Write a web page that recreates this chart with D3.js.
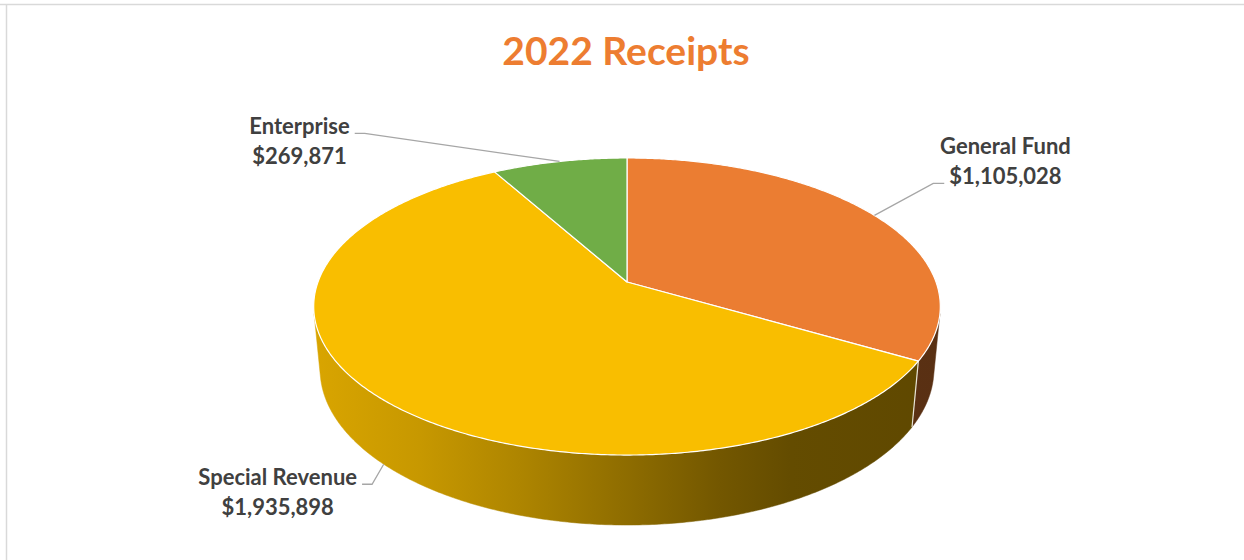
<!DOCTYPE html>
<html>
<head>
<meta charset="utf-8">
<script src="https://cdn.jsdelivr.net/npm/d3@7/dist/d3.min.js"></script>
<style>
  html, body { margin: 0; padding: 0; background: #ffffff; }
  svg { display: block; }
</style>
</head>
<body>
<svg id="chart" width="1244" height="560"></svg>
<script>
// ---- data ----
const title = "2022 Receipts";
const categories = ["General Fund", "Special Revenue", "Enterprise"];
const values = [1105028, 1935898, 269871];
const sliceColors = ["#EB7D32", "#F9BE00", "#70AD47"];

// ---- layout / 3D projection constants ----
const W = 1244, H = 560;
const cx = 627, cy = 282;          // projected pie centre
const D = 5.356, F = 1655;         // camera distance (radius units) and focal scale (px)
const sinP = 0.4676, cosP = Math.sqrt(1 - sinP * sinP);
const thick = 0.232;               // pie thickness (radius units)

const svg = d3.select("#chart");
const fmt = d3.format("$,");

// border
svg.append("line").attr("x1", 0).attr("x2", W).attr("y1", 4.5).attr("y2", 4.5)
  .attr("stroke", "#d9d9d9").attr("stroke-width", 1.5);
svg.append("line").attr("x1", 6.5).attr("x2", 6.5).attr("y1", 4).attr("y2", H)
  .attr("stroke", "#d9d9d9").attr("stroke-width", 1.5);

// title
svg.append("text").attr("x", 626).attr("y", 65)
  .attr("text-anchor", "middle")
  .attr("font-family", "Lato, 'Open Sans', sans-serif")
  .attr("font-weight", 700).attr("font-size", 39)
  .attr("fill", "#ED7D31").text(title);

function proj(theta, r, y) {
  const x = r * Math.sin(theta), z = -r * Math.cos(theta);
  const depth = D - y * sinP - z * cosP;
  const up = y * cosP - z * sinP;
  return [cx + F * x / depth, cy - F * up / depth];
}

const arcs = d3.pie().sort(null).value(d => d)(values);

function arcPts(a0, a1, y) {
  const n = Math.max(2, Math.ceil(Math.abs(a1 - a0) / (Math.PI / 360)));
  return d3.range(n + 1).map(i => proj(a0 + (a1 - a0) * i / n, 1, y));
}

// gradient shading for walls
const shadeStops = [[313, 0.87], [420, 0.80], [520, 0.70], [620, 0.58], [720, 0.46], [790, 0.40], [940, 0.38]];
const defs = svg.append("defs");
sliceColors.forEach((c, i) => {
  const g = defs.append("linearGradient").attr("id", "wall" + i)
    .attr("gradientUnits", "userSpaceOnUse")
    .attr("x1", 313).attr("x2", 940).attr("y1", 0).attr("y2", 0);
  const base = d3.rgb(c);
  shadeStops.forEach(([x, f]) => {
    g.append("stop").attr("offset", (x - 313) / (940 - 313))
      .attr("stop-color", d3.rgb(base.r * f, base.g * f, base.b * f).formatHex());
  });
});

// visible wall range
const lim = Math.acos(-1 / (D * cosP));
const visA = lim, visB = 2 * Math.PI - lim;
const line = d3.line();

const walls = svg.append("g");
arcs.forEach((a, i) => {
  const t0 = Math.max(a.startAngle, visA), t1 = Math.min(a.endAngle, visB);
  if (t1 <= t0) return;
  const top = arcPts(t0, t1, 0);
  const bot = arcPts(t1, t0, -thick);
  walls.append("path").attr("d", line(top.concat(bot)) + "Z")
    .attr("fill", `url(#wall${i})`)
    .attr("stroke", `url(#wall${i})`).attr("stroke-width", 0.5);
});
// wall seams at slice boundaries
arcs.forEach(a => {
  const t = a.startAngle;
  if (t > visA && t < visB) {
    const p = proj(t, 1, 0), q = proj(t, 1, -thick);
    walls.append("line").attr("x1", p[0]).attr("y1", p[1]).attr("x2", q[0]).attr("y2", q[1])
      .attr("stroke", "#e8e4d8").attr("stroke-width", 1.2);
  }
});

// top faces
const tops = svg.append("g");
arcs.forEach((a, i) => {
  const pts = [proj(0, 0, 0)].concat(arcPts(a.startAngle, a.endAngle, 0));
  tops.append("path").attr("d", line(pts) + "Z")
    .attr("fill", sliceColors[i])
    .attr("stroke", "#ffffff").attr("stroke-width", 1.2).attr("stroke-linejoin", "round");
});

// labels
const labelFont = "Lato, 'Open Sans', sans-serif";
const labelCfg = [
  { y: 0, dx: 131, dy: -61, side: "right" },
  { y: -thick, dx: -106, dy: 21, side: "left" },
  { y: 0, dx: -260, dy: -27, side: "left" }
];
arcs.forEach((a, i) => {
  const cfg = labelCfg[i];
  const mid = (a.startAngle + a.endAngle) / 2;
  const anc = proj(mid, 1, cfg.y);
  const lx = anc[0] + cfg.dx, ly = anc[1] + cfg.dy;
  const t = svg.append("text").attr("text-anchor", "middle")
    .attr("font-family", labelFont).attr("font-weight", 700).attr("font-size", 22)
    .attr("fill", "#404040");
  t.append("tspan").attr("x", lx).attr("y", ly).text(categories[i]);
  t.append("tspan").attr("x", lx).attr("y", ly + 30).text(fmt(values[i]));
  const w1 = t.node().childNodes[0].getComputedTextLength();
  let pts;
  if (cfg.side === "left") {
    const sx = lx + w1 / 2 + 5;
    const yy = ly - 1;
    pts = [[sx, yy], [sx + 10, yy], anc];
  } else {
    const w2 = t.node().childNodes[1].getComputedTextLength();
    const sx = lx - w2 / 2 - 5;
    const yy = ly + 30 - 1;
    pts = [[sx, yy], [sx - 11, yy], anc];
  }
  svg.append("path").attr("d", line(pts)).attr("fill", "none")
    .attr("stroke", "#a6a6a6").attr("stroke-width", 1.3);
});
</script>
</body>
</html>
